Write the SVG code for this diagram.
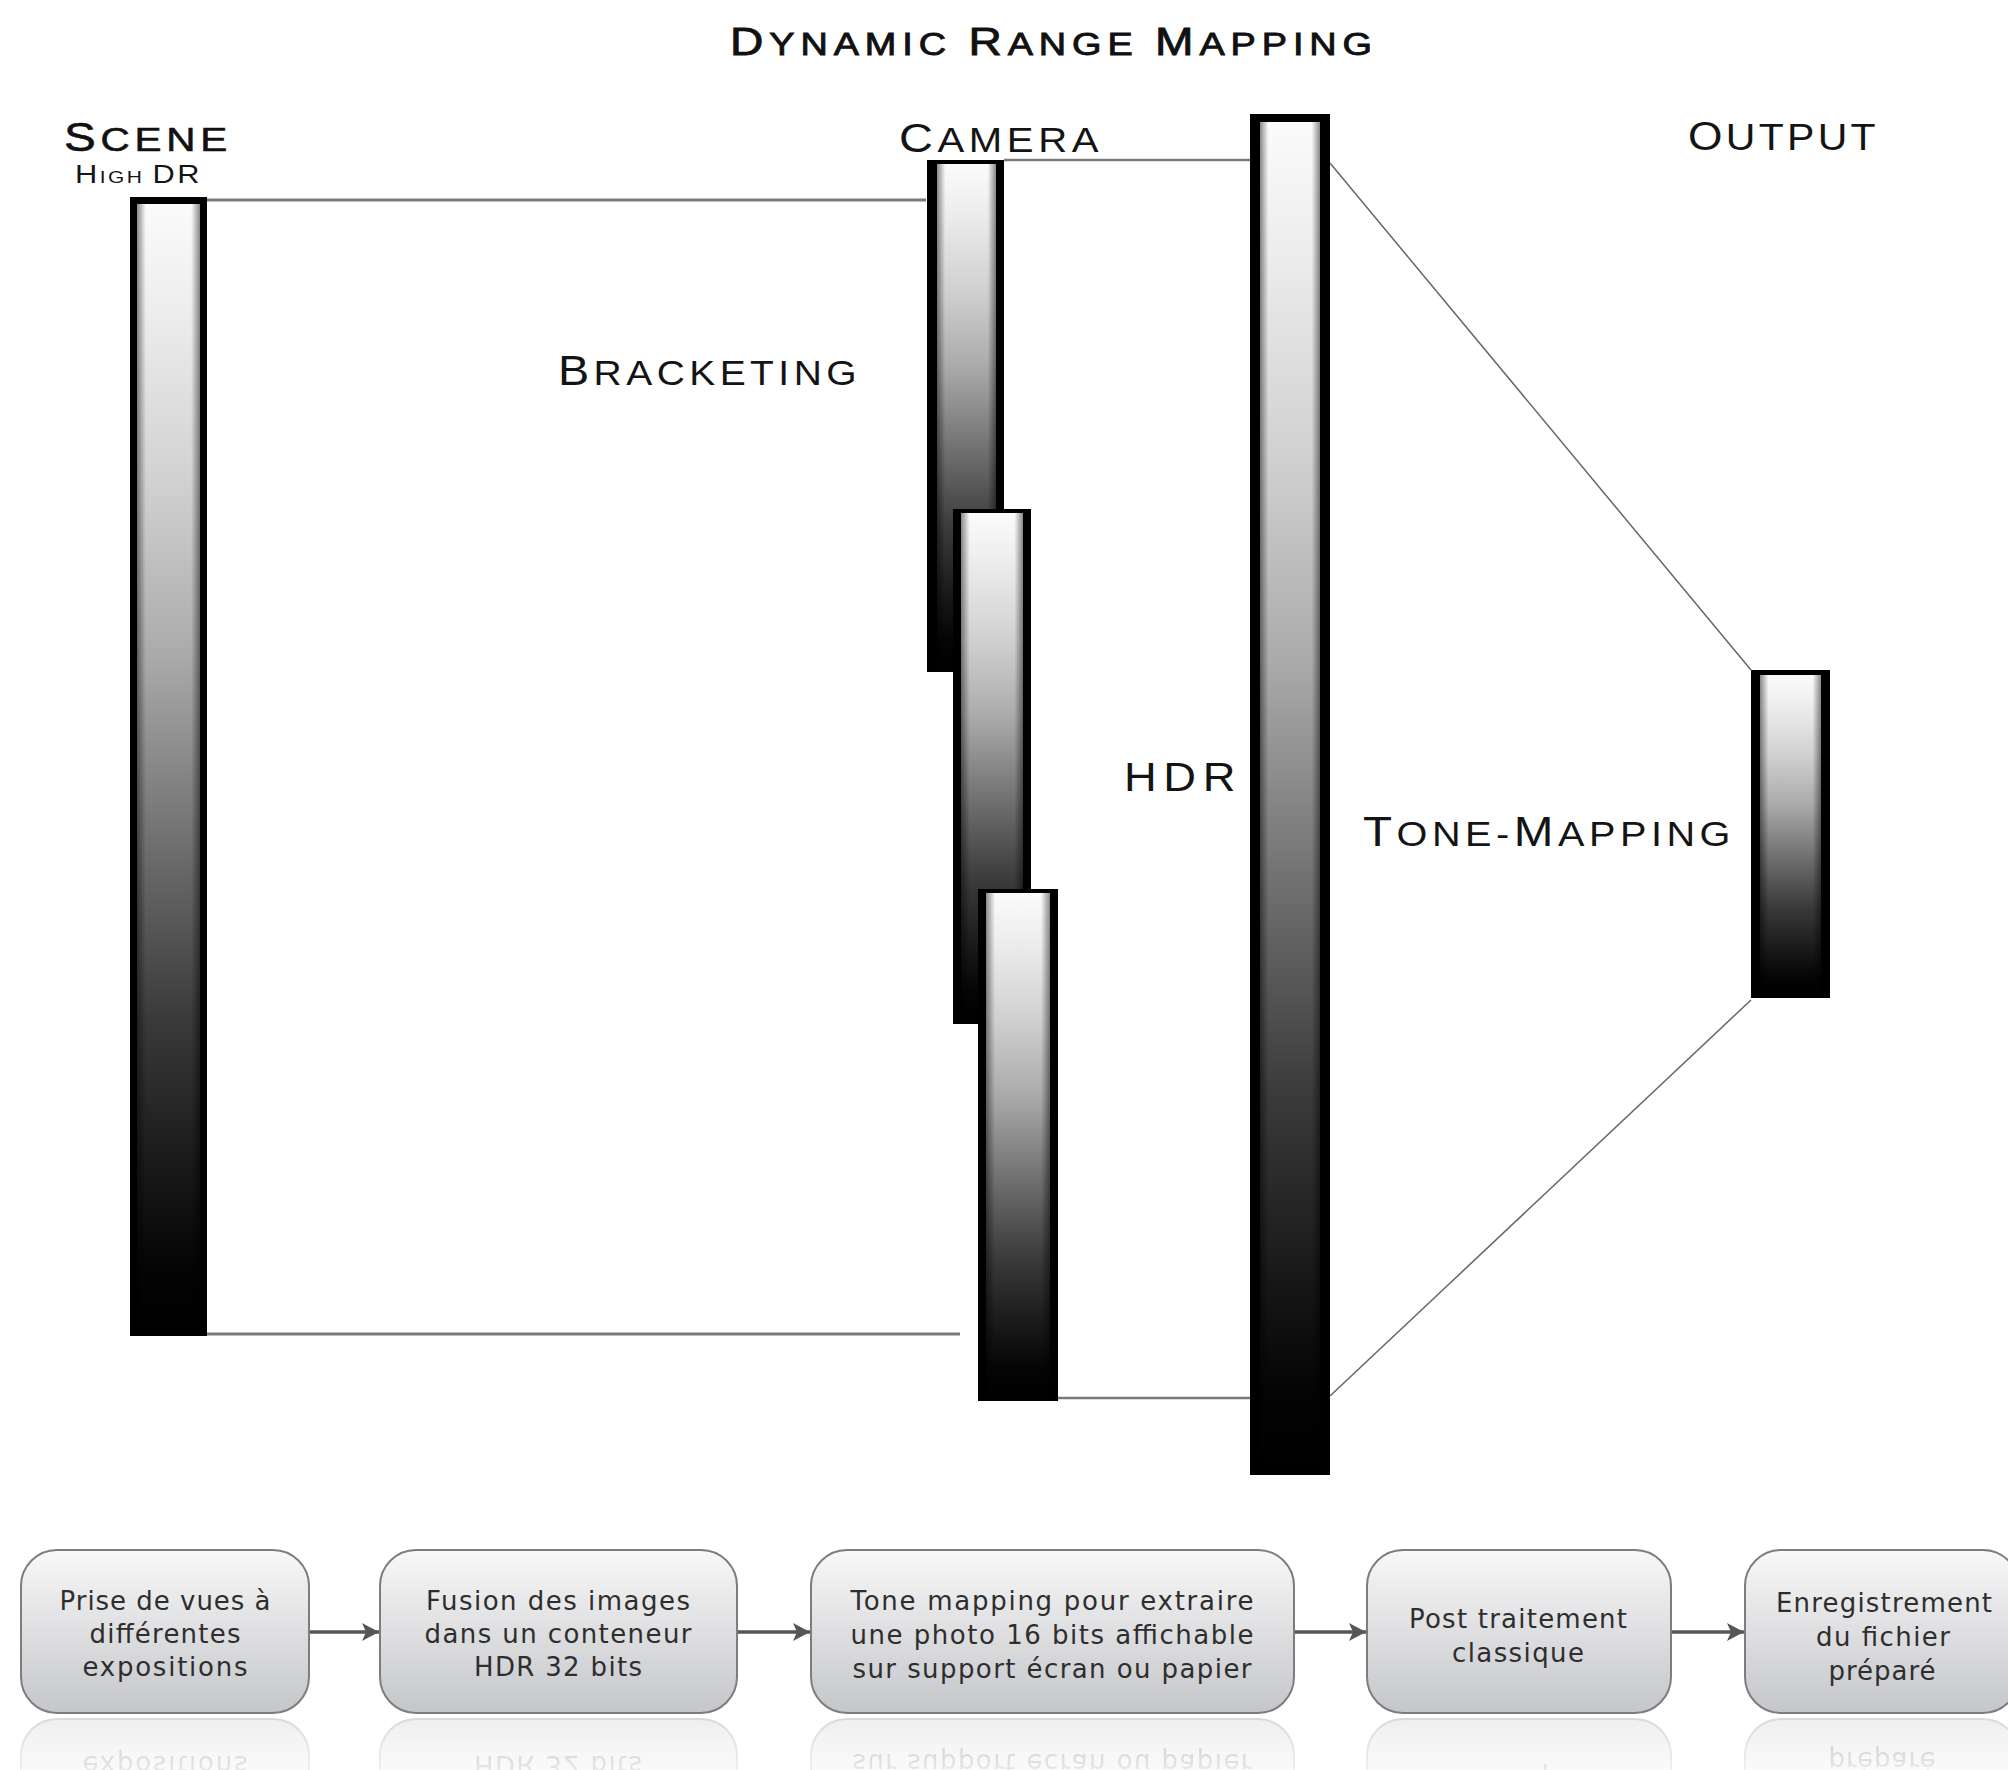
<svg xmlns="http://www.w3.org/2000/svg" xmlns:xlink="http://www.w3.org/1999/xlink" width="2008" height="1770" viewBox="0 0 2008 1770">
<defs>
<style>
.lbl{font-family:"Liberation Sans",Arial,sans-serif;fill:#141414;}
.ttl{font-family:"Liberation Sans",Arial,sans-serif;fill:#111;stroke:#111;stroke-width:0.9;}
.box{fill:url(#boxGrad);stroke:#7d7d7d;stroke-width:2;}
.btxt{font-family:"DejaVu Sans","Liberation Sans",sans-serif;font-size:26px;fill:#2e2e2e;text-anchor:middle;}
.guide{stroke:#7a7a7a;stroke-width:3;fill:none;}
.diag{stroke:#666;stroke-width:1.5;fill:none;}
.conn{stroke:#565656;stroke-width:3.5;fill:none;marker-end:url(#arr);}
.frame{fill:#000;}
.fill{fill:url(#vg);}
.shade{fill:url(#hg);}
</style>
<linearGradient id="vg" x1="0" y1="0" x2="0" y2="1">
<stop offset="0" stop-color="#fbfbfb"/>
<stop offset="0.1" stop-color="#ececec"/>
<stop offset="0.25" stop-color="#d0d0d0"/>
<stop offset="0.4" stop-color="#aaaaaa"/>
<stop offset="0.58" stop-color="#6a6a6a"/>
<stop offset="0.72" stop-color="#3a3a3a"/>
<stop offset="0.87" stop-color="#141414"/>
<stop offset="0.94" stop-color="#040404"/>
<stop offset="1" stop-color="#000"/>
</linearGradient>
<linearGradient id="hg" x1="0" y1="0" x2="1" y2="0">
<stop offset="0" stop-color="#000" stop-opacity="0.45"/>
<stop offset="0.14" stop-color="#000" stop-opacity="0"/>
<stop offset="0.86" stop-color="#000" stop-opacity="0"/>
<stop offset="1" stop-color="#000" stop-opacity="0.45"/>
</linearGradient>
<linearGradient id="boxGrad" x1="0" y1="0" x2="0" y2="1">
<stop offset="0" stop-color="#f8f8f8"/>
<stop offset="1" stop-color="#c5c6ca"/>
</linearGradient>
<linearGradient id="fadeGrad" x1="0" y1="0" x2="0" y2="1">
<stop offset="0" stop-color="#fff"/>
<stop offset="1" stop-color="#fff" stop-opacity="0.35"/>
</linearGradient>
<mask id="fadeMask" maskUnits="userSpaceOnUse" x="0" y="1714" width="2008" height="60">
<rect x="0" y="1714" width="2008" height="60" fill="url(#fadeGrad)"/>
</mask>
<marker id="arr" markerUnits="userSpaceOnUse" markerWidth="20" markerHeight="20" refX="17" refY="9" orient="auto">
<path d="M0,0 L17,9 L0,18 L4,9 Z" fill="#565656"/>
</marker>
</defs>
<rect x="0" y="0" width="2008" height="1770" fill="#fff"/>

<g id="title">
<text class="ttl" x="730" y="55" letter-spacing="5" textLength="648" lengthAdjust="spacingAndGlyphs"><tspan font-size="39">D</tspan><tspan font-size="32">YNAMIC </tspan><tspan font-size="39">R</tspan><tspan font-size="32">ANGE </tspan><tspan font-size="39">M</tspan><tspan font-size="32">APPING</tspan></text>
</g>

<g id="connectors">
<path class="guide" d="M207,200 H926"/>
<path class="guide" d="M207,1334 H960"/>
<path class="guide" d="M1004,160 H1250" style="stroke-width:2.5"/>
<path class="guide" d="M1058,1398 H1250" style="stroke-width:2.5"/>
<path class="diag" d="M1330,163 L1751,670"/>
<path class="diag" d="M1330,1396 L1751,1000"/>
<path class="conn" d="M309,1632 H379"/>
<path class="conn" d="M737,1632 H810"/>
<path class="conn" d="M1294,1632 H1366"/>
<path class="conn" d="M1671,1632 H1744"/>
</g>

<g id="scene">
<text class="ttl" x="64" y="151" letter-spacing="4" textLength="168" lengthAdjust="spacingAndGlyphs" style="stroke-width:0.6"><tspan font-size="40">S</tspan><tspan font-size="34">CENE</tspan></text>
<text class="lbl" x="75" y="183" letter-spacing="2" textLength="127" lengthAdjust="spacingAndGlyphs"><tspan font-size="25">H</tspan><tspan font-size="17">IGH </tspan><tspan font-size="25">DR</tspan></text>
<rect class="frame" x="130" y="197" width="77" height="1139"/>
<rect class="fill" x="137" y="204" width="63" height="1132"/>
<rect class="shade" x="137" y="204" width="63" height="1132"/>
</g>

<g id="camera">
<text class="lbl" x="899" y="152" letter-spacing="4" textLength="204" lengthAdjust="spacingAndGlyphs"><tspan font-size="41">C</tspan><tspan font-size="35">AMERA</tspan></text>
<g id="bracket-1">
<rect class="frame" x="927" y="160" width="77" height="512"/>
<rect class="fill" x="937" y="164" width="59" height="508"/>
<rect class="shade" x="937" y="164" width="59" height="508"/>
</g>
<g id="bracket-2">
<rect class="frame" x="953" y="509" width="78" height="515"/>
<rect class="fill" x="961" y="513" width="62" height="511"/>
<rect class="shade" x="961" y="513" width="62" height="511"/>
</g>
<g id="bracket-3">
<rect class="frame" x="978" y="889" width="80" height="512"/>
<rect class="fill" x="986" y="893" width="64" height="508"/>
<rect class="shade" x="986" y="893" width="64" height="508"/>
</g>
</g>

<g id="bracketing-label">
<text class="lbl" x="558" y="385" letter-spacing="4" textLength="303" lengthAdjust="spacingAndGlyphs"><tspan font-size="42">B</tspan><tspan font-size="35">RACKETING</tspan></text>
</g>

<g id="hdr">
<text class="lbl" x="1124" y="791" font-size="41" letter-spacing="6" textLength="118" lengthAdjust="spacingAndGlyphs">HDR</text>
<rect class="frame" x="1250" y="114" width="80" height="1361"/>
<rect class="fill" x="1260" y="122" width="60" height="1353"/>
<rect class="shade" x="1260" y="122" width="60" height="1353"/>
</g>

<g id="tone-mapping-label">
<text class="lbl" x="1363" y="846" letter-spacing="4" textLength="372" lengthAdjust="spacingAndGlyphs"><tspan font-size="42">T</tspan><tspan font-size="35">ONE-</tspan><tspan font-size="42">M</tspan><tspan font-size="35">APPING</tspan></text>
</g>

<g id="output">
<text class="lbl" x="1688" y="150" letter-spacing="3" textLength="191" lengthAdjust="spacingAndGlyphs"><tspan font-size="40">O</tspan><tspan font-size="37">UTPUT</tspan></text>
<rect class="frame" x="1751" y="670" width="79" height="328"/>
<rect class="fill" x="1760" y="675" width="61" height="323"/>
<rect class="shade" x="1760" y="675" width="61" height="323"/>
</g>

<g id="box1">
<rect class="box" x="21" y="1550" width="288" height="163" rx="36"/>
<text class="btxt" x="165" y="1610" textLength="211" lengthAdjust="spacing">Prise de vues à</text>
<text class="btxt" x="165" y="1643" textLength="151" lengthAdjust="spacing">différentes</text>
<text class="btxt" x="165" y="1676" textLength="165" lengthAdjust="spacing">expositions</text>
</g>
<g id="box2">
<rect class="box" x="380" y="1550" width="357" height="163" rx="36"/>
<text class="btxt" x="558" y="1610" textLength="264" lengthAdjust="spacing">Fusion des images</text>
<text class="btxt" x="558" y="1643" textLength="267" lengthAdjust="spacing">dans un conteneur</text>
<text class="btxt" x="558" y="1676" textLength="168" lengthAdjust="spacing">HDR 32 bits</text>
</g>
<g id="box3">
<rect class="box" x="811" y="1550" width="483" height="163" rx="36"/>
<text class="btxt" x="1052" y="1610" textLength="403" lengthAdjust="spacing">Tone mapping pour extraire</text>
<text class="btxt" x="1052" y="1644" textLength="403" lengthAdjust="spacing">une photo 16 bits affichable</text>
<text class="btxt" x="1052" y="1678" textLength="399" lengthAdjust="spacing">sur support écran ou papier</text>
</g>
<g id="box4">
<rect class="box" x="1367" y="1550" width="304" height="163" rx="36"/>
<text class="btxt" x="1518" y="1628" textLength="218" lengthAdjust="spacing">Post traitement</text>
<text class="btxt" x="1518" y="1662" textLength="132" lengthAdjust="spacing">classique</text>
</g>
<g id="box5">
<rect class="box" x="1745" y="1550" width="274" height="163" rx="36"/>
<text class="btxt" x="1884" y="1612" textLength="216" lengthAdjust="spacing">Enregistrement</text>
<text class="btxt" x="1883" y="1646" textLength="134" lengthAdjust="spacing">du fichier</text>
<text class="btxt" x="1882" y="1680" textLength="107" lengthAdjust="spacing">préparé</text>
</g>

<g id="reflections" opacity="0.3" mask="url(#fadeMask)">
<use xlink:href="#box1" href="#box1" transform="matrix(1 0 0 -1 0 3432)"/>
<use xlink:href="#box2" href="#box2" transform="matrix(1 0 0 -1 0 3432)"/>
<use xlink:href="#box3" href="#box3" transform="matrix(1 0 0 -1 0 3432)"/>
<use xlink:href="#box4" href="#box4" transform="matrix(1 0 0 -1 0 3432)"/>
<use xlink:href="#box5" href="#box5" transform="matrix(1 0 0 -1 0 3432)"/>
</g>
</svg>
